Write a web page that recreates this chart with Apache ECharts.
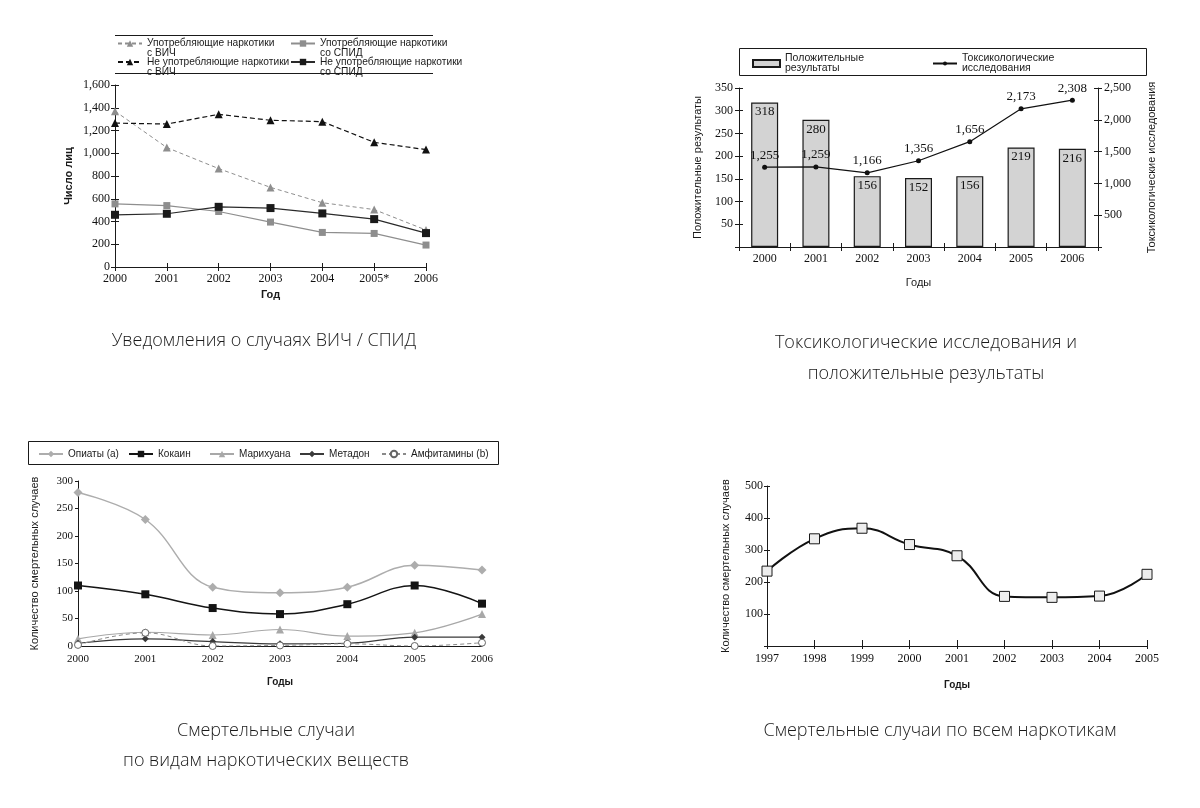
<!DOCTYPE html>
<html>
<head>
<meta charset="utf-8">
<script src="https://cdn.jsdelivr.net/npm/echarts/dist/echarts.min.js"></script>
<style>
html,body{margin:0;padding:0;background:#fff;}
#c{width:1200px;height:808px;}
</style>
</head>
<body>
<div id="c"></div>
<script>
// ---------- Panel 1: HIV / AIDS notifications ----------
const hivYears = ['2000', '2001', '2002', '2003', '2004', '2005*', '2006'];
const hivUsersWithHiv = [1370, 1050, 865, 700, 565, 505, 325];
const hivNonUsersWithHiv = [1265, 1257, 1342, 1290, 1278, 1096, 1032];
const hivUsersWithAids = [555, 540, 488, 395, 304, 295, 193];
const hivNonUsersWithAids = [459, 468, 529, 518, 471, 421, 298];
const hivSeriesNames = [
  'Употребляющие наркотики\nс ВИЧ',
  'Употребляющие наркотики\nсо СПИД',
  'Не употребляющие наркотики\nс ВИЧ',
  'Не употребляющие наркотики\nсо СПИД'
];

// ---------- Panel 2: toxicology tests ----------
const toxYears = ['2000', '2001', '2002', '2003', '2004', '2005', '2006'];
const toxPositive = [318, 280, 156, 152, 156, 219, 216];
const toxTests = [1255, 1259, 1166, 1356, 1656, 2173, 2308];
const toxSeriesNames = ['Положительные\nрезультаты', 'Токсикологические\nисследования'];

// ---------- Panel 3: deaths by drug ----------
const drugYears = ['2000', '2001', '2002', '2003', '2004', '2005', '2006'];
const opiates = [279, 230, 107, 97, 107, 147, 138];
const cocaine = [110, 94, 69, 58, 76, 110, 77];
const marijuana = [13, 25, 20, 30, 18, 24, 58];
const methadone = [5, 13, 8, 4, 5, 16, 16];
const amphetamines = [2, 24, 0, 1, 4, 0, 6];
const drugSeriesNames = ['Опиаты (a)', 'Кокаин', 'Марихуана', 'Метадон', 'Амфитамины (b)'];

// ---------- Panel 4: deaths, all drugs ----------
const allYears = ['1997', '1998', '1999', '2000', '2001', '2002', '2003', '2004', '2005'];
const allDeaths = [234, 335, 368, 317, 282, 155, 152, 156, 224];

// ---------- Captions ----------
const captionHiv = ['Уведомления о случаях ВИЧ / СПИД'];
const captionTox = ['Токсикологические исследования и', 'положительные результаты'];
const captionDrug = ['Смертельные случаи', 'по видам наркотических веществ'];
const captionAll = ['Смертельные случаи по всем наркотикам'];

const SERIF = '"Liberation Serif", "DejaVu Serif", serif';
const SANS = '"Liberation Sans", Arial, sans-serif';
const CAP = '"Open Sans", "Noto Sans", sans-serif';
const INK = '#1a1a1a';

const fmt = v => Number(v).toLocaleString('en-US');
const fmtNoZero = v => (v === 0 ? '' : Number(v).toLocaleString('en-US'));

const axLine = { show: true, lineStyle: { color: INK, width: 1 } };
const nameStyle = { fontFamily: SANS, fontSize: 11, color: INK };
const labSerif = (size, margin, extra) => Object.assign({ color: '#111', fontFamily: SERIF, fontSize: size, margin: margin }, extra || {});

function overlayCat(grid, data, gap, len) {
  return { gridIndex: grid, type: 'category', data: data, boundaryGap: gap, position: 'bottom',
    axisLine: { show: false }, axisLabel: { show: false }, splitLine: { show: false },
    axisTick: { show: true, inside: true, length: len, lineStyle: { color: INK } } };
}
function overlayVal(grid, pos, min, max, interval, len) {
  return { gridIndex: grid, type: 'value', position: pos, min: min, max: max, interval: interval,
    axisLine: { show: false }, axisLabel: { show: false }, splitLine: { show: false },
    axisTick: { show: true, inside: true, length: len, lineStyle: { color: INK } } };
}

const chart = echarts.init(document.getElementById('c'), null, { renderer: 'canvas' });

const legendCommon = { padding: 0, selectedMode: true, itemGap: 0 };
const hivLegendText = { fontFamily: SANS, fontSize: 10.2, lineHeight: 10, color: INK };
const hivLegendFmt = n => '\n' + n;

const option = {
  animation: false,
  backgroundColor: '#ffffff',
  grid: [
    { left: 115, top: 85, width: 311, height: 182, outerBoundsMode: 'none' },
    { left: 739, top: 88, width: 359, height: 159, outerBoundsMode: 'none' },
    { left: 78, top: 481, width: 404, height: 165, outerBoundsMode: 'none' },
    { left: 767, top: 486, width: 380, height: 160, outerBoundsMode: 'none' }
  ],
  xAxis: [
    { gridIndex: 0, type: 'category', data: hivYears, boundaryGap: false, position: 'bottom',
      axisLine: axLine, axisTick: { show: true, length: 4, lineStyle: { color: INK } },
      axisLabel: labSerif(12, 6, { interval: 0 }), splitLine: { show: false },
      name: 'Год', nameLocation: 'middle', nameGap: 22, nameTextStyle: Object.assign({}, nameStyle, { fontWeight: 'bold' }) },
    overlayCat(0, hivYears, false, 4),
    { gridIndex: 1, type: 'category', data: toxYears, boundaryGap: true, position: 'bottom',
      axisLine: axLine, axisTick: { show: true, length: 4, lineStyle: { color: INK } },
      axisLabel: labSerif(12, 6, { interval: 0 }), splitLine: { show: false },
      name: 'Годы', nameLocation: 'middle', nameGap: 30, nameTextStyle: nameStyle },
    overlayCat(1, toxYears, true, 4),
    { gridIndex: 2, type: 'category', data: drugYears, boundaryGap: false, position: 'bottom',
      axisLine: axLine, axisTick: { show: false },
      axisLabel: labSerif(11, 8, { interval: 0 }), splitLine: { show: false },
      name: 'Годы', nameLocation: 'middle', nameGap: 31, nameTextStyle: Object.assign({}, nameStyle, { fontWeight: 'bold', fontSize: 10 }) },
    { gridIndex: 3, type: 'category', data: allYears, boundaryGap: false, position: 'bottom',
      axisLine: axLine, axisTick: { show: true, length: 3, lineStyle: { color: INK } },
      axisLabel: labSerif(12, 7, { interval: 0 }), splitLine: { show: false },
      name: 'Годы', nameLocation: 'middle', nameGap: 34, nameTextStyle: Object.assign({}, nameStyle, { fontWeight: 'bold', fontSize: 10 }) },
    overlayCat(3, allYears, false, 6)
  ],
  yAxis: [
    { gridIndex: 0, type: 'value', position: 'left', min: 0, max: 1600, interval: 200,
      axisLine: axLine, axisTick: { show: true, length: 4, lineStyle: { color: INK } },
      axisLabel: labSerif(12, 5, { formatter: fmt }), splitLine: { show: false },
      name: 'Число лиц', nameLocation: 'middle', nameGap: 41, nameTextStyle: Object.assign({}, nameStyle, { fontWeight: 'bold' }) },
    overlayVal(0, 'left', 0, 1600, 200, 4),
    { gridIndex: 1, type: 'value', position: 'left', min: 0, max: 350, interval: 50,
      axisLine: axLine, axisTick: { show: true, length: 4, lineStyle: { color: INK } },
      axisLabel: labSerif(12, 6, { formatter: fmtNoZero }), splitLine: { show: false },
      name: 'Положительные результаты', nameLocation: 'middle', nameGap: 36, nameTextStyle: nameStyle },
    { gridIndex: 1, type: 'value', position: 'right', min: 0, max: 2500, interval: 500,
      axisLine: axLine, axisTick: { show: true, length: 4, lineStyle: { color: INK } },
      axisLabel: labSerif(12, 6, { formatter: fmtNoZero }), splitLine: { show: false },
      name: 'Токсикологические исследования', nameLocation: 'middle', nameGap: 48, nameTextStyle: nameStyle },
    overlayVal(1, 'left', 0, 350, 50, 4),
    overlayVal(1, 'right', 0, 2500, 500, 4),
    { gridIndex: 2, type: 'value', position: 'left', min: 0, max: 300, interval: 50,
      axisLine: axLine, axisTick: { show: true, length: 3, lineStyle: { color: INK } },
      axisLabel: labSerif(11, 5), splitLine: { show: false },
      name: 'Количество смертельных случаев', nameLocation: 'middle', nameGap: 38, nameTextStyle: nameStyle },
    { gridIndex: 3, type: 'value', position: 'left', min: 0, max: 500, interval: 100,
      axisLine: axLine, axisTick: { show: true, length: 3, lineStyle: { color: INK } },
      axisLabel: labSerif(12, 4, { formatter: fmtNoZero }), splitLine: { show: false },
      name: 'Количество смертельных случаев', nameLocation: 'middle', nameGap: 36, nameTextStyle: nameStyle },
    overlayVal(3, 'left', 0, 500, 100, 3)
  ],
  legend: [
    // panel 1 (icon aligned with the first text line)
    Object.assign({}, legendCommon, { left: 117, top: 28.5, data: [hivSeriesNames[0]], itemWidth: 24, itemHeight: 8,
      formatter: hivLegendFmt, textStyle: hivLegendText }),
    Object.assign({}, legendCommon, { left: 117, top: 47, data: [hivSeriesNames[2]], itemWidth: 24, itemHeight: 8,
      formatter: hivLegendFmt, textStyle: hivLegendText }),
    Object.assign({}, legendCommon, { left: 290, top: 28.5, data: [hivSeriesNames[1]], itemWidth: 24, itemHeight: 8,
      formatter: hivLegendFmt, textStyle: hivLegendText }),
    Object.assign({}, legendCommon, { left: 290, top: 47, data: [hivSeriesNames[3]], itemWidth: 24, itemHeight: 8,
      formatter: hivLegendFmt, textStyle: hivLegendText }),
    // panel 2
    Object.assign({}, legendCommon, { left: 752, top: 53, data: [{ name: toxSeriesNames[0], icon: 'rect' }], itemWidth: 27, itemHeight: 7,
      textStyle: { fontFamily: SANS, fontSize: 10.5, lineHeight: 10, color: INK } }),
    Object.assign({}, legendCommon, { left: 932, top: 53, data: [toxSeriesNames[1]], itemWidth: 24, itemHeight: 5,
      textStyle: { fontFamily: SANS, fontSize: 10.5, lineHeight: 10, color: INK } }),
    // panel 3
    Object.assign({}, legendCommon, { left: 38, top: 449, data: [drugSeriesNames[0]], itemWidth: 24, itemHeight: 8,
      textStyle: { fontFamily: SANS, fontSize: 10, color: INK } }),
    Object.assign({}, legendCommon, { left: 128, top: 449, data: [drugSeriesNames[1]], itemWidth: 24, itemHeight: 8,
      textStyle: { fontFamily: SANS, fontSize: 10, color: INK } }),
    Object.assign({}, legendCommon, { left: 209, top: 449, data: [drugSeriesNames[2]], itemWidth: 24, itemHeight: 8,
      textStyle: { fontFamily: SANS, fontSize: 10, color: INK } }),
    Object.assign({}, legendCommon, { left: 299, top: 449, data: [drugSeriesNames[3]], itemWidth: 24, itemHeight: 8,
      textStyle: { fontFamily: SANS, fontSize: 10, color: INK } }),
    Object.assign({}, legendCommon, { left: 381, top: 449, data: [drugSeriesNames[4]], itemWidth: 24, itemHeight: 8,
      textStyle: { fontFamily: SANS, fontSize: 10, color: INK } })
  ],
  series: [
    { name: hivSeriesNames[0], type: 'line', xAxisIndex: 0, yAxisIndex: 0, data: hivUsersWithHiv,
      symbol: 'triangle', symbolSize: 8, itemStyle: { color: '#8e8e8e' },
      lineStyle: { color: '#8e8e8e', width: 1, type: [4, 3] } },
    { name: hivSeriesNames[1], type: 'line', xAxisIndex: 0, yAxisIndex: 0, data: hivUsersWithAids,
      symbol: 'rect', symbolSize: 7, itemStyle: { color: '#8e8e8e' },
      lineStyle: { color: '#8e8e8e', width: 1.2 } },
    { name: hivSeriesNames[2], type: 'line', xAxisIndex: 0, yAxisIndex: 0, data: hivNonUsersWithHiv,
      symbol: 'triangle', symbolSize: 8, itemStyle: { color: '#111' },
      lineStyle: { color: '#111', width: 1.2, type: [5, 3] } },
    { name: hivSeriesNames[3], type: 'line', xAxisIndex: 0, yAxisIndex: 0, data: hivNonUsersWithAids,
      symbol: 'rect', symbolSize: 8, itemStyle: { color: '#1a1a1a' },
      lineStyle: { color: '#2a2a2a', width: 1.2 } },
    { name: toxSeriesNames[0], type: 'bar', xAxisIndex: 2, yAxisIndex: 2, data: toxPositive, barWidth: 27,
      itemStyle: { color: '#d3d3d3', borderColor: '#1a1a1a', borderWidth: 1.2 },
      label: { show: true, position: 'insideTop', distance: 3, fontFamily: SERIF, fontSize: 13, color: '#111' } },
    { name: toxSeriesNames[1], type: 'line', xAxisIndex: 2, yAxisIndex: 3, data: toxTests,
      symbol: 'circle', symbolSize: 5, itemStyle: { color: '#111' }, lineStyle: { color: '#111', width: 1.2 },
      label: { show: true, position: 'top', distance: 3, formatter: p => fmt(p.value), fontFamily: SERIF, fontSize: 13, color: '#111' } },
    { name: drugSeriesNames[0], type: 'line', xAxisIndex: 4, yAxisIndex: 6, data: opiates, smooth: 0.4,
      symbol: 'diamond', symbolSize: 9, itemStyle: { color: '#adadad' }, lineStyle: { color: '#adadad', width: 1.5 } },
    { name: drugSeriesNames[1], type: 'line', xAxisIndex: 4, yAxisIndex: 6, data: cocaine, smooth: 0.4,
      symbol: 'rect', symbolSize: 8, itemStyle: { color: '#141414' }, lineStyle: { color: '#141414', width: 1.5 } },
    { name: drugSeriesNames[2], type: 'line', xAxisIndex: 4, yAxisIndex: 6, data: marijuana, smooth: 0.4,
      symbol: 'triangle', symbolSize: 8, itemStyle: { color: '#a8a8a8' }, lineStyle: { color: '#a8a8a8', width: 1.2 } },
    { name: drugSeriesNames[3], type: 'line', xAxisIndex: 4, yAxisIndex: 6, data: methadone, smooth: 0.4,
      symbol: 'diamond', symbolSize: 7, itemStyle: { color: '#3a3a3a' }, lineStyle: { color: '#3a3a3a', width: 1.2 } },
    { name: drugSeriesNames[4], type: 'line', xAxisIndex: 4, yAxisIndex: 6, data: amphetamines, smooth: 0.4,
      symbol: 'circle', symbolSize: 7, itemStyle: { color: '#ffffff', borderColor: '#666', borderWidth: 1 },
      lineStyle: { color: '#8a8a8a', width: 1, type: [4, 3] } },
    { name: 'Все наркотики', type: 'line', xAxisIndex: 5, yAxisIndex: 7, data: allDeaths, smooth: 0.45,
      symbol: 'rect', symbolSize: 10, itemStyle: { color: '#ededed', borderColor: '#1a1a1a', borderWidth: 1 },
      lineStyle: { color: '#111', width: 2 } }
  ],
  graphic: [
    { type: 'line', z: 0, shape: { x1: 115, y1: 35.5, x2: 433, y2: 35.5 }, style: { stroke: INK, lineWidth: 1 } },
    { type: 'line', z: 0, shape: { x1: 115, y1: 73.5, x2: 433, y2: 73.5 }, style: { stroke: INK, lineWidth: 1 } },
    { type: 'rect', z: 0, shape: { x: 739.5, y: 48.5, width: 407, height: 27 }, style: { fill: 'none', stroke: INK, lineWidth: 1 } },
    { type: 'rect', z: 0, shape: { x: 28.5, y: 441.5, width: 470, height: 23 }, style: { fill: 'none', stroke: INK, lineWidth: 1 } }
  ]
};

const capStyle = (text, x, y) => ({
  type: 'text', z: 10, x: x, y: y,
  style: { text: text, x: 0, y: 0, fill: '#1a1a1a', font: '300 18px ' + CAP,
    align: 'center', verticalAlign: 'middle', textAlign: 'center', textVerticalAlign: 'middle' }
});
option.graphic.push(capStyle(captionHiv[0], 264, 341));
option.graphic.push(capStyle(captionTox[0], 926, 343));
option.graphic.push(capStyle(captionTox[1], 926, 374));
option.graphic.push(capStyle(captionDrug[0], 266, 731));
option.graphic.push(capStyle(captionDrug[1], 266, 761));
option.graphic.push(capStyle(captionAll[0], 940, 731));

chart.setOption(option);
</script>
</body>
</html>
